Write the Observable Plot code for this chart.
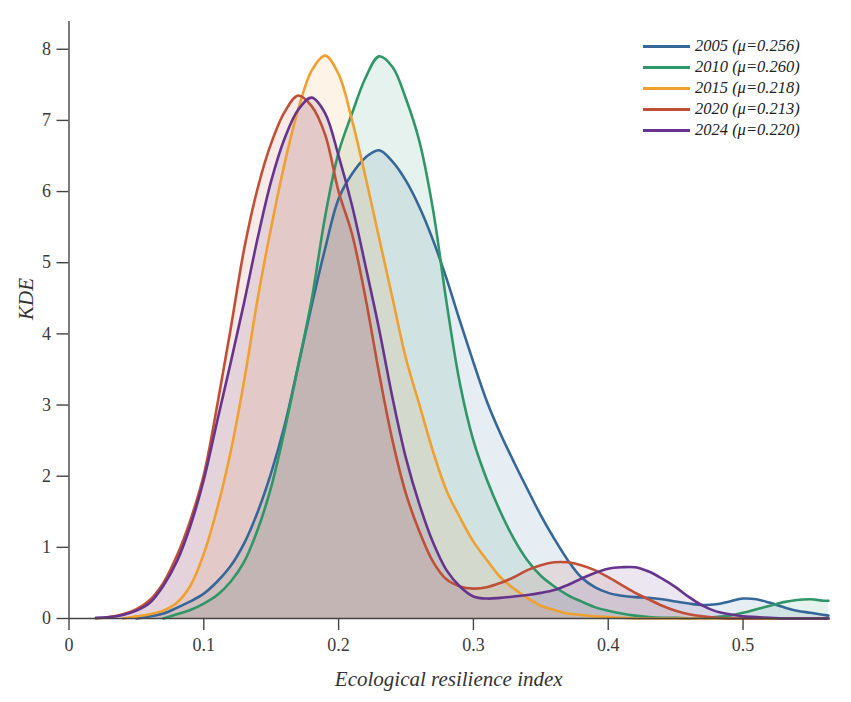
<!DOCTYPE html>
<html><head><meta charset="utf-8">
<script src="https://cdn.jsdelivr.net/npm/d3@7"></script>
<script src="https://cdn.jsdelivr.net/npm/@observablehq/plot@0.6"></script>
<style>
body{margin:0;background:#fff}
#wrap{position:relative;width:851px;height:702px;font-family:"Liberation Serif","Times New Roman",serif}
#legend{position:absolute;left:643px;top:35px;font-style:italic;font-size:16.5px;color:#222}
#legend .row{height:21px;line-height:21px;white-space:nowrap}
#legend .sw{display:inline-block;width:47px;height:3px;vertical-align:middle;margin-right:5px;position:relative;top:-1px}
</style>
</head><body><div id="wrap"><div id="legend"></div></div>
<script>
// Evaluation grid (ecological resilience index)
const xGrid = [0.02,0.03,0.04,0.05,0.06,0.07,0.08,0.09,0.10,0.11,0.12,0.13,0.14,0.15,0.16,0.17,0.18,0.19,0.20,
  0.21,0.22,0.23,0.24,0.25,0.26,0.27,0.28,0.29,0.30,0.31,0.32,0.33,0.34,0.35,0.36,0.37,0.38,0.39,0.40,
  0.41,0.42,0.43,0.44,0.45,0.46,0.47,0.48,0.49,0.50,0.51,0.52,0.53,0.54,0.55,0.56,0.5634];

const years = ["2005","2010","2015","2020","2024"];
const means = ["0.256","0.260","0.218","0.213","0.220"];
const colors = ["#356899","#2f9668","#f0a030","#bf5037","#66348c"];

const kde2005 = [null,null,null,0.0,0.03,0.07,0.15,0.24,0.35,0.52,0.74,1.06,1.5,2.05,2.72,3.55,4.4,5.2,5.9,
  6.25,6.48,6.58,6.42,6.15,5.78,5.32,4.78,4.18,3.6,3.05,2.6,2.2,1.82,1.45,1.12,0.82,0.58,0.44,0.36,
  0.32,0.30,0.29,0.27,0.24,0.21,0.19,0.20,0.24,0.28,0.27,0.22,0.16,0.11,0.08,0.05,0.04];
const kde2010 = [null,null,null,null,null,0.0,0.06,0.12,0.21,0.33,0.52,0.8,1.25,1.85,2.65,3.55,4.48,5.65,6.55,
  7.1,7.6,7.9,7.75,7.3,6.7,5.75,4.45,3.3,2.5,1.95,1.5,1.12,0.82,0.6,0.45,0.33,0.24,0.16,0.11,
  0.07,0.04,0.02,0.01,0.01,0.0,0.01,0.02,0.04,0.08,0.13,0.18,0.23,0.26,0.27,0.25,0.25];
const kde2015 = [null,null,0.0,0.03,0.06,0.11,0.22,0.46,0.91,1.55,2.35,3.35,4.5,5.5,6.4,7.15,7.7,7.91,7.65,
  7.0,6.2,5.35,4.5,3.65,3.0,2.35,1.8,1.42,1.08,0.82,0.58,0.42,0.29,0.18,0.12,0.07,0.05,0.03,0.02,
  0.01,0,0,0,0,0,0,0,0,0,0,0,0,0,0,0,0];
const kde2020 = [0.0,0.02,0.06,0.13,0.26,0.5,0.88,1.38,2.02,3.0,4.08,5.2,6.05,6.68,7.12,7.35,7.2,6.8,6.0,
  5.4,4.5,3.45,2.5,1.75,1.22,0.8,0.55,0.45,0.42,0.44,0.5,0.58,0.68,0.75,0.79,0.79,0.75,0.68,0.58,
  0.47,0.36,0.27,0.18,0.11,0.06,0.03,0.01,0,0,0,0,0,0,0,0,0];
const kde2024 = [0.01,0.02,0.05,0.11,0.22,0.46,0.8,1.3,1.95,2.78,3.6,4.45,5.35,6.15,6.75,7.15,7.32,7.1,6.5,
  5.8,4.95,4.07,3.1,2.25,1.6,1.07,0.68,0.45,0.31,0.28,0.29,0.31,0.33,0.36,0.4,0.47,0.56,0.64,0.7,
  0.72,0.72,0.66,0.56,0.44,0.3,0.18,0.1,0.06,0.03,0.02,0.01,0,0,0,0,0];

const xTicks = [0,0.1,0.2,0.3,0.4,0.5];
const yTicks = [0,1,2,3,4,5,6,7,8];
const xLabel = "Ecological resilience index";
const yLabel = "KDE";

const series = [kde2005,kde2010,kde2015,kde2020,kde2024];
const rows = [];
series.forEach((vals, s) => {
  vals.forEach((v, i) => { if (v != null) rows.push({year: years[s], x: xGrid[i], y: v}); });
});

const colorScale = {domain: years, range: colors};
const font = "Liberation Serif, Times New Roman, serif";

const chart = Plot.plot({
  width: 851, height: 702,
  marginLeft: 68.5, marginRight: 23, marginTop: 21, marginBottom: 84,
  style: {fontFamily: font, fontSize: "18px", color: "#3a3a3a", background: "#fff"},
  x: {domain: [0, 0.5634]},
  y: {domain: [0, 8.39]},
  color: colorScale,
  marks: [
    ...years.map(yr => Plot.areaY(rows.filter(d => d.year === yr), {x: "x", y: "y", fill: "year", fillOpacity: 0.12, curve: "catmull-rom"})),
    ...years.map(yr => Plot.line(rows.filter(d => d.year === yr), {x: "x", y: "y", stroke: "year", strokeWidth: 2.6, curve: "catmull-rom"})),
    Plot.ruleY([0], {stroke: "#444", strokeWidth: 1.4}),
    Plot.ruleX([0], {stroke: "#444", strokeWidth: 1.4}),
    Plot.axisX({ticks: xTicks, tickSize: 12, tickPadding: 8, tickFormat: d => String(d), label: null, stroke: "#444", strokeWidth: 1.4}),
    Plot.axisY({ticks: yTicks, tickSize: 12, tickPadding: 6, tickFormat: d => String(d), label: null, stroke: "#444", strokeWidth: 1.4}),
    Plot.text([xLabel], {frameAnchor: "bottom", dy: 61, lineAnchor: "middle", fontSize: 21, fontStyle: "italic", fill: "#333"}),
    Plot.text([yLabel], {frameAnchor: "left", dx: -43, rotate: -90, lineAnchor: "middle", fontSize: 21, fontStyle: "italic", fill: "#333"})
  ]
});
document.getElementById("wrap").prepend(chart);

const legend = document.getElementById("legend");
years.forEach((yr, i) => {
  const row = document.createElement("div");
  row.className = "row";
  const sw = document.createElement("span");
  sw.className = "sw";
  sw.style.background = colors[i];
  row.appendChild(sw);
  row.appendChild(document.createTextNode(yr + " (\u03bc=" + means[i] + ")"));
  legend.appendChild(row);
});
</script>
</body></html>
